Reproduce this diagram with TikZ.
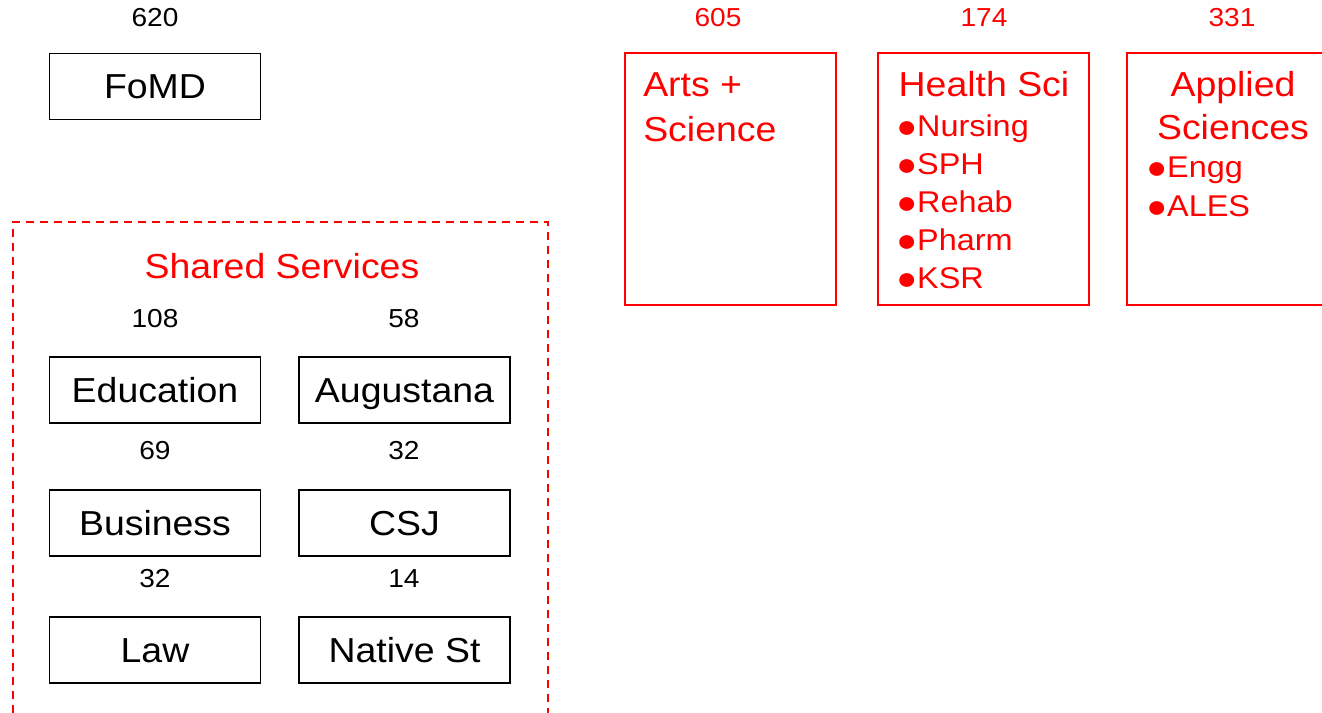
\documentclass[tikz,border=0pt]{standalone}
\usepackage{fontspec}
\setmainfont{Liberation Sans}[FakeStretch=1.08]
\newcommand{\bul}{\raisebox{-0.5pt}{\fontsize{24}{27}\selectfont ●}}
\begin{document}
\begin{tikzpicture}[x=0.75pt,y=-0.75pt,
  unitbox/.style={draw=black,line width=1.3pt,minimum width=158.25pt,minimum height=49.5pt,inner sep=0pt,font=\fontsize{26}{31}\selectfont,text height=18.7pt,text depth=0pt},
  countlbl/.style={anchor=base,inner sep=0pt,font=\fontsize{19.5}{23}\selectfont},
  groupbox/.style={draw=red,line width=1.3pt,minimum width=158.25pt,minimum height=188.6pt,inner sep=0pt},
  grouptitle/.style={inner sep=0pt,text=red,font=\fontsize{26}{31}\selectfont},
  groupitem/.style={anchor=base west,inner sep=0pt,text=red,font=\fontsize{22.5}{27}\selectfont}]
\useasboundingbox (0,0) rectangle (1322,713);
\clip (0,0) rectangle (1322,713);
\draw[red,line width=1.5pt,dash pattern=on 6pt off 4.5pt] (13,713) -- (13,222) -- (548,222) -- (548,713);
\node[countlbl] (fomdn) at (155,26.5){620};
\node[unitbox] (fomd) at (155,86.5){FoMD};
\node[grouptitle,anchor=base] (shared) at (282,278.5){Shared Services};
\node[countlbl] (edun) at (155,327){108};
\node[unitbox] (edu) at (155,390){Education};
\node[countlbl] (augn) at (404,327){58};
\node[unitbox] (aug) at (404.5,390){Augustana};
\node[countlbl] (busn) at (155,459){69};
\node[unitbox] (bus) at (155,523){Business};
\node[countlbl] (csjn) at (404,459){32};
\node[unitbox] (csj) at (404.5,523){CSJ};
\node[countlbl] (lawn) at (155,587){32};
\node[unitbox] (law) at (155,650){Law};
\node[countlbl] (natn) at (404,587){14};
\node[unitbox] (nat) at (404.5,650){Native St};
\node[countlbl,text=red] (artsn) at (718,26.5){605};
\node[groupbox] (arts) at (730.5,179){};
\node[grouptitle,anchor=base west] (artsa) at (643,97){Arts +};
\node[grouptitle,anchor=base west] (artsb) at (643,141.5){Science};
\node[countlbl,text=red] (healthn) at (984,26.5){174};
\node[groupbox] (health) at (983.5,179){};
\node[grouptitle,anchor=base] (healtha) at (984,97){Health Sci};
\node[groupitem] (nurs) at (896,137){\bul Nursing};
\node[groupitem] (sph) at (896,175){\bul SPH};
\node[groupitem] (rehab) at (896,213){\bul Rehab};
\node[groupitem] (pharm) at (896,251){\bul Pharm};
\node[groupitem] (ksr) at (896,289){\bul KSR};
\node[countlbl,text=red] (appn) at (1232,26.5){331};
\node[groupbox] (app) at (1232.5,179){};
\node[grouptitle,anchor=base] (appa) at (1233,97){Applied};
\node[grouptitle,anchor=base] (appb) at (1233,140){Sciences};
\node[groupitem] (engg) at (1146,178){\bul Engg};
\node[groupitem] (ales) at (1146,216.5){\bul ALES};
\end{tikzpicture}
\end{document}
